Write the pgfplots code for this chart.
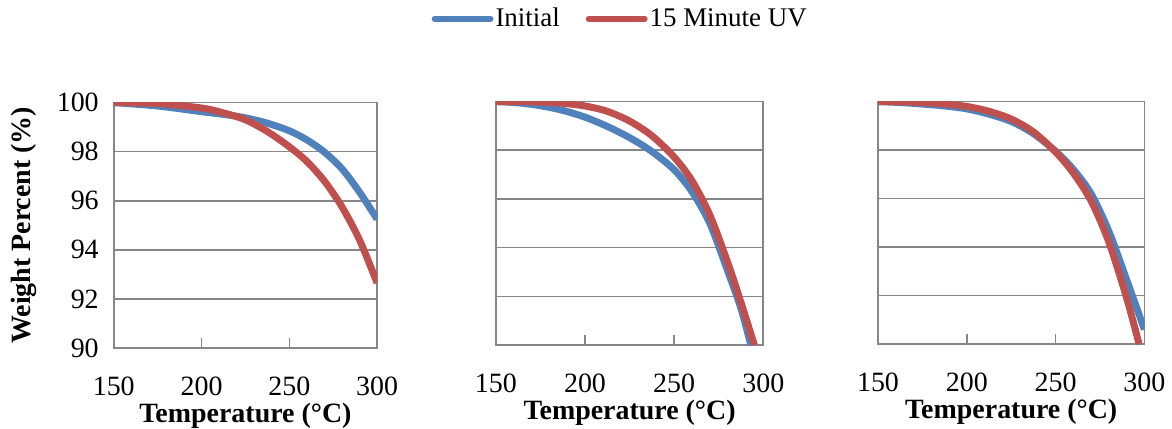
\documentclass[border=0pt]{standalone}
\usepackage{pgfplots}
\pgfplotsset{compat=1.18}
\usepackage{fontspec}
\setmainfont{Liberation Serif}
\definecolor{cblue}{HTML}{4F81BD}
\definecolor{cred}{HTML}{C0504D}
\definecolor{cgrid}{HTML}{868686}
\pgfplotsset{
  panel/.style={
    scale only axis,
    anchor=south west,
    xmin=150, xmax=300, ymin=90, ymax=100,
    xtick={150,200,250,300},
    ytick={90,92,...,100},
    ymajorgrids,
    grid style={cgrid, line width=0.8pt},
    axis line style={cgrid, line width=0.8pt},
    tick style={cgrid, line width=0.8pt},
    xtick pos=bottom, xtick align=inside,
    major tick length=5pt,
    ytick style={draw=none},
    font=\fontsize{14}{16}\selectfont,
    /pgf/number format/assume math mode=true,
    xticklabel style={inner ysep=0pt, yshift=-14.5pt},
    xlabel={\bfseries Temperature (\textdegree C)},
    xlabel style={inner ysep=0pt, yshift=-3.5pt},
    every axis plot/.append style={line width=3.5pt, smooth, no marks},
  }
}
\begin{document}
\begin{tikzpicture}
\path (0,0) rectangle (586pt,213.5pt);
% Panel 1
\begin{axis}[panel, at={(57pt,40pt)}, width=132pt, height=123pt,
  ylabel={\bfseries Weight Percent (\%)},
  ylabel style={yshift=3pt},
  yticklabel style={xshift=-4pt}]
\addplot[cblue] coordinates {(150,100)(175,99.86)(200,99.63)(212.5,99.52)(225,99.38)(237.5,99.16)(250,98.85)(260,98.48)(270,97.98)(280,97.3)(290,96.35)(300,95.25)};
\addplot[cred] coordinates {(150,100)(175,99.96)(200,99.78)(212.5,99.58)(225,99.3)(237.5,98.82)(250,98.2)(260,97.6)(270,96.8)(280,95.75)(290,94.4)(300,92.65)};
\end{axis}
% Panel 2
\begin{axis}[panel, at={(248.5pt,41.5pt)}, width=134pt, height=122pt,
  yticklabels={},
  legend columns=2,
  legend style={draw=none, at={(0.465,1.34)}, anchor=center, font=\fontsize{13.5}{16}\selectfont,
    nodes={inner xsep=1pt},
    /tikz/every even column/.append style={column sep=12pt}},
  legend image code/.code={\draw[#1, line cap=round, line width=3pt] (0pt,0pt) -- (28pt,0pt);}]
\addplot[cblue] coordinates {(150,100)(162.5,99.95)(175,99.83)(187.5,99.64)(200,99.36)(212.5,98.98)(225,98.52)(237.5,97.95)(250,97.2)(260,96.3)(270,95.0)(280,93.05)(287.5,91.5)(293,90)};
\addlegendentry{Initial}
\addplot[cred] coordinates {(150,100)(162.5,100)(175,99.98)(187.5,99.93)(200,99.82)(212.5,99.6)(225,99.2)(237.5,98.6)(250,97.72)(260,96.75)(270,95.35)(280,93.4)(287.5,91.75)(295,90)};
\addlegendentry{15 Minute UV}
\end{axis}
% Panel 3
\begin{axis}[panel, at={(440pt,42pt)}, width=133.5pt, height=121.5pt,
  yticklabels={}]
\addplot[cblue] coordinates {(150,100)(162.5,99.96)(175,99.9)(187.5,99.82)(200,99.7)(212.5,99.48)(225,99.18)(237.5,98.68)(250,97.95)(260,97.2)(270,96.2)(280,94.65)(290,92.65)(300,90.6)};
\addplot[cred] coordinates {(150,100)(162.5,99.99)(175,99.96)(187.5,99.9)(200,99.8)(212.5,99.6)(225,99.28)(237.5,98.75)(250,97.92)(260,97.05)(270,95.9)(280,94.2)(290,91.9)(297,90)};
\end{axis}
\end{tikzpicture}
\end{document}
